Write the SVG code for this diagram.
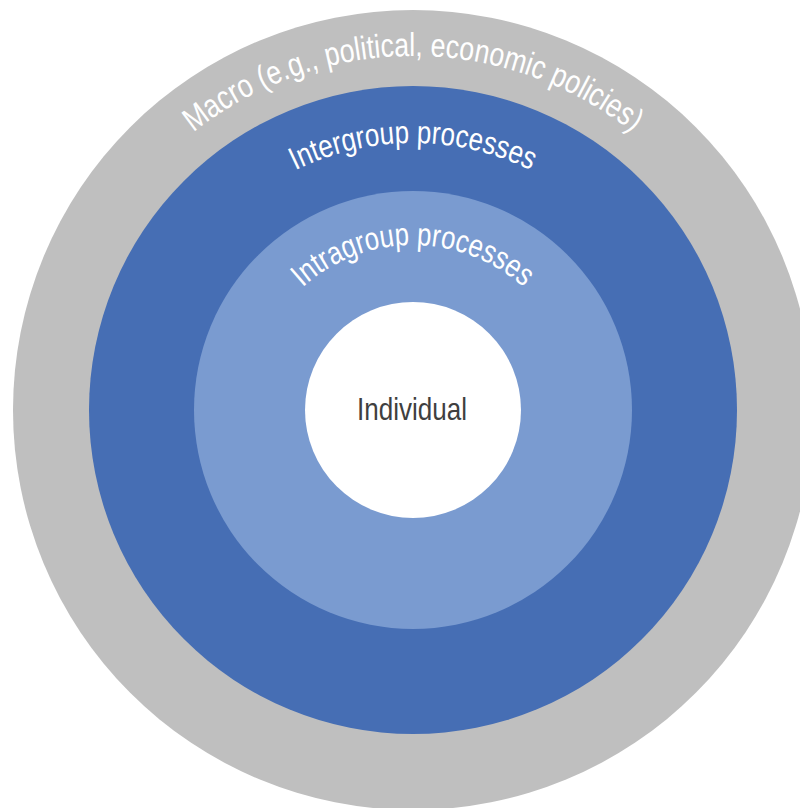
<svg xmlns="http://www.w3.org/2000/svg" width="800" height="808" viewBox="0 0 800 808">
  <style>
    .ring-label { font-family: "Liberation Sans Narrow", "Liberation Sans", Arial, sans-serif; fill: #ffffff; }
    .core-label { font-family: "Liberation Sans Narrow", "Liberation Sans", Arial, sans-serif; fill: #3f3f3f; font-size: 32px; }
  </style>
  <defs>
    <!-- upper half-circle baselines, all centred on (413,410), drawn left to right -->
    <path id="arc-macro" d="M 59 410 A 354 354 0 0 1 767 410"/>
    <path id="arc-inter" d="M 146 410 A 267 267 0 0 1 680 410"/>
    <path id="arc-intra" d="M 248 410 A 165 165 0 0 1 578 410"/>
  </defs>
  <rect width="800" height="808" fill="#ffffff"/>

  <g id="macro">
    <circle cx="413" cy="410" r="400" fill="#bfbfbf"/>
    <text class="ring-label" font-size="33">
      <textPath href="#arc-macro" startOffset="50%" text-anchor="middle" textLength="474" lengthAdjust="spacingAndGlyphs">Macro (e.g., political, economic policies)</textPath>
    </text>
  </g>

  <g id="intergroup">
    <circle cx="413" cy="410" r="324" fill="#466eb4"/>
    <text class="ring-label" font-size="32">
      <textPath href="#arc-inter" startOffset="50%" text-anchor="middle" textLength="244" lengthAdjust="spacingAndGlyphs">Intergroup processes</textPath>
    </text>
  </g>

  <g id="intragroup">
    <circle cx="413" cy="410" r="219" fill="#7a9bd0"/>
    <text class="ring-label" font-size="32">
      <textPath href="#arc-intra" startOffset="50%" text-anchor="middle" textLength="242" lengthAdjust="spacingAndGlyphs">Intragroup processes</textPath>
    </text>
  </g>

  <g id="individual">
    <circle cx="413" cy="410" r="108" fill="#ffffff"/>
    <text class="core-label" x="412" y="419.5" text-anchor="middle" textLength="110" lengthAdjust="spacingAndGlyphs">Individual</text>
  </g>

  <g id="connectors"/>
</svg>
